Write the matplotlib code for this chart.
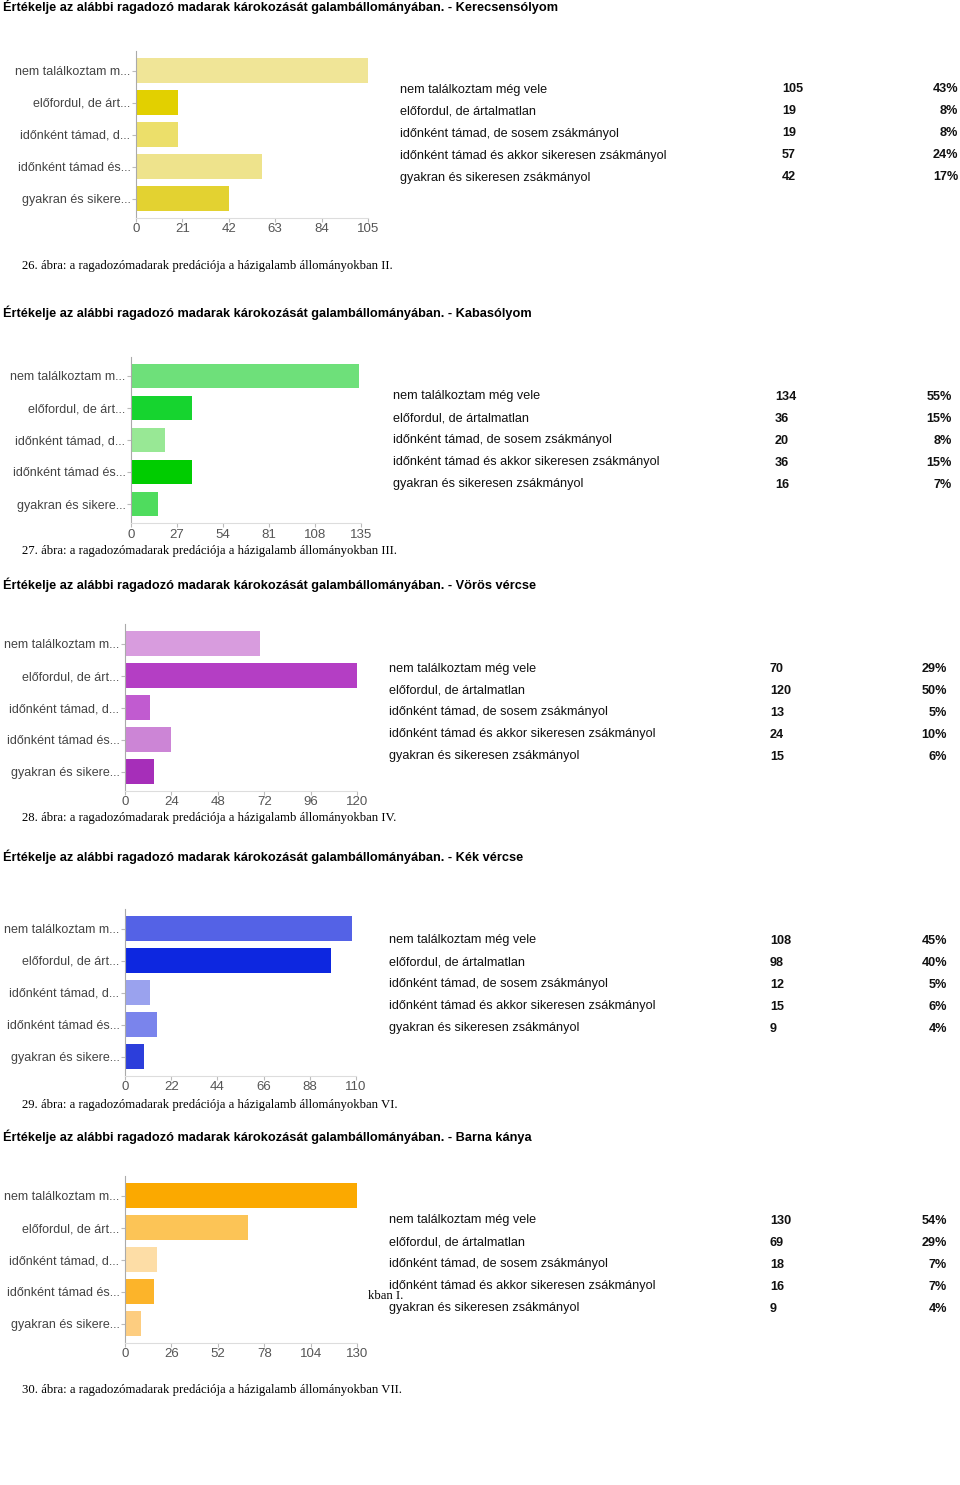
import numpy as np
import matplotlib.pyplot as plt

# adatok
short_labels = ["nem találkoztam m...", "előfordul, de árt...", "időnként támad, d...",
                "időnként támad és...", "gyakran és sikere..."]
long_labels = ["nem találkoztam még vele", "előfordul, de ártalmatlan",
               "időnként támad, de sosem zsákmányol",
               "időnként támad és akkor sikeresen zsákmányol",
               "gyakran és sikeresen zsákmányol"]

birds = ["Kerecsensólyom", "Kabasólyom", "Vörös vércse", "Kék vércse", "Barna kánya"]
counts = [[105, 19, 19, 57, 42],
          [134, 36, 20, 36, 16],
          [70, 120, 13, 24, 15],
          [108, 98, 12, 15, 9],
          [130, 69, 18, 16, 9]]
percents = [["43%", "8%", "8%", "24%", "17%"],
            ["55%", "15%", "8%", "15%", "7%"],
            ["29%", "50%", "5%", "10%", "6%"],
            ["45%", "40%", "5%", "6%", "4%"],
            ["54%", "29%", "7%", "7%", "4%"]]
xmax = [105, 135, 120, 110, 130]
xstep = [21, 27, 24, 22, 26]
captions = ["26. ábra: a ragadozómadarak predációja a házigalamb állományokban II.",
            "27. ábra: a ragadozómadarak predációja a házigalamb állományokban III.",
            "28. ábra: a ragadozómadarak predációja a házigalamb állományokban IV.",
            "29. ábra: a ragadozómadarak predációja a házigalamb állományokban VI.",
            "30. ábra: a ragadozómadarak predációja a házigalamb állományokban VII."]

colors = [["#F0E597", "#E2D000", "#ECDF6A", "#EEE38C", "#E3D231"],
          ["#6EE07A", "#16D42F", "#98E895", "#00CC00", "#4FDC5E"],
          ["#D89CDE", "#B43EC4", "#C15BD0", "#CC85D6", "#A62EB9"],
          ["#5462E6", "#0D27E0", "#9AA2EE", "#7A84EC", "#2C3EDB"],
          ["#FBA900", "#FCC456", "#FDDDA6", "#FCB42A", "#FDCD80"]]

W, H = 960, 1485
fig = plt.figure(figsize=(W / 100, H / 100), dpi=100)
plt.rcParams['font.family'] = ['Liberation Sans', 'DejaVu Sans']

# pixel helyek: cim y, tengely bal, tengely jobb, elso oszlop kozepe, tick y, felirat y,
# tablazat: szoveg x, szam x, szazalek jobb szele, elso sor y
layout = [
    (7, 136, 368, 70.5, 227, 266, 400, 782, 958, 88),
    (313, 131, 361, 376, 532, 551, 393, 775, 952, 395),
    (585, 125, 357, 643.5, 799, 818, 389, 770, 947, 667),
    (857, 125, 356, 928.5, 1085, 1105, 389, 770, 947, 939),
    (1137, 125, 357, 1195.5, 1352, 1390, 389, 770, 947, 1219),
]
pitch = 32


def fx(px):
    return px / W


def fy(py):
    return 1 - py / H


for i in range(5):
    ty, axl, axr, c0, ticky, capy, tx, nx, px_, ry = layout[i]

    fig.text(fx(3), fy(ty), "Értékelje az alábbi ragadozó madarak károkozását galambállományában. - " + birds[i],
             fontsize=9.15, fontweight='bold', va='center', ha='left', color='black')

    top = c0 - 0.6 * pitch
    bot = c0 + 4.6 * pitch
    ax = fig.add_axes([fx(axl), fy(bot), fx(axr - axl), (bot - top) / H])
    ypos = np.arange(5)
    ax.barh(ypos, counts[i], height=0.78, color=colors[i])
    ax.set_ylim(4.6, -0.6)
    ax.set_xlim(0, xmax[i])
    ax.set_xticks(np.arange(0, xmax[i] + 1, xstep[i]))
    ax.set_yticks(ypos)
    ax.set_yticklabels(short_labels, fontsize=9, color='#444444')
    ax.tick_params(axis='x', labelsize=9.5, colors='#555555', length=3, width=0.8, pad=1, color='#bbbbbb')
    ax.tick_params(axis='y', length=3, color='#bbbbbb', pad=1)
    for s in ['top', 'right']:
        ax.spines[s].set_visible(False)
    ax.spines['left'].set_color('#aaaaaa')
    ax.spines['bottom'].set_color('#dddddd')

    for k in range(5):
        yy = fy(ry + 1.5 + k * 22)
        fig.text(fx(tx), yy, long_labels[k], fontsize=9.1, va='center', ha='left', color='#111111')
        fig.text(fx(nx), yy, str(counts[i][k]), fontsize=9.1, fontweight='bold', va='center', ha='left', color='#111111')
        fig.text(fx(px_), yy, percents[i][k], fontsize=9.1, fontweight='bold', va='center', ha='right', color='#111111')

    fig.text(fx(22), fy(capy), captions[i], fontsize=9.2, family='Liberation Serif', va='center', ha='left')

# szkennelt maradvany
fig.text(fx(368), fy(1296), "kban I.", fontsize=9.2, family='Liberation Serif', va='center', ha='left')

fig.savefig("out.png", dpi=100, facecolor='white')
